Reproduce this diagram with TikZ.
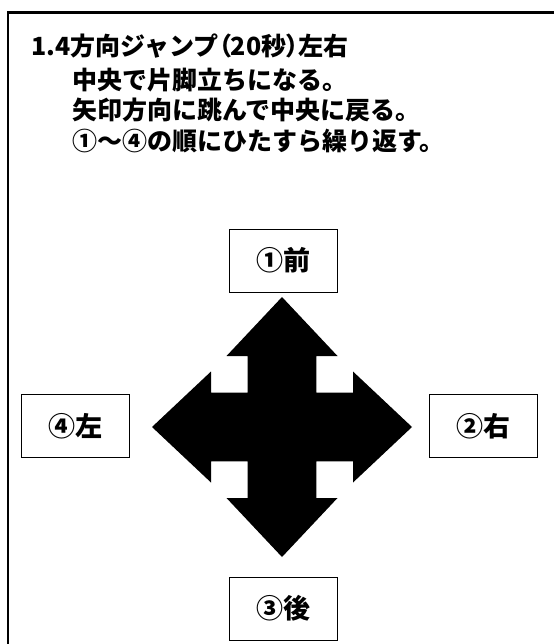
\documentclass[tikz,border=0pt]{standalone}
\usepackage{fontspec}
\setmainfont{Noto Sans CJK JP}
\newcommand{\narrowparen}[1]{{\addfontfeature{RawFeature=+palt}#1}}

\begin{document}
\begin{tikzpicture}[x=1pt,y=-1pt,
		label box/.style={draw, line width=0.8pt, minimum width=108pt, minimum height=63pt, inner sep=0pt, font=\fontsize{27}{30}\selectfont\bfseries},
		text line/.style={anchor=base west, inner sep=0pt, font=\fontsize{25}{28}\selectfont\bfseries}]
			\useasboundingbox (0,0) rectangle (554,644);

			% frame (only top and left show)
			\draw [line width=2.5pt] (8,644) -- (8,12.5) -- (554,12.5) ;

			% text lines
			\node[text line] (title) at (31,56) {1.4方向ジャンプ\narrowparen{（}20秒\narrowparen{）}左右} ;
			\node[text line] (step1) at (72,90) {中央で片脚立ちになる。} ;
			\node[text line] (step2) at (72,120) {矢印方向に跳んで中央に戻る。} ;
			\node[text line] (step3) at (72,151) {①～④の順にひたすら繰り返す。} ;

			% arrow in four directions
			\fill [black, shift={(282,427)}] (0,-130) -- (55.5,-71) -- (34.3,-71) -- (34.3,-34.3) -- (71,-34.3) -- (71,-55.5)
				-- (130,0) -- (71,55.5) -- (71,34.3) -- (34.3,34.3) -- (34.3,71) -- (55.5,71)
				-- (0,130) -- (-55.5,71) -- (-34.3,71) -- (-34.3,34.3) -- (-71,34.3) -- (-71,55.5)
				-- (-130,0) -- (-71,-55.5) -- (-71,-34.3) -- (-34.3,-34.3) -- (-34.3,-71) -- (-55.5,-71) -- cycle ;

			% direction boxes
			\node[label box] (front) at (283,260.5) {①前} ;
			\node[label box] (right) at (483,426) {②右} ;
			\node[label box] (back) at (283,608.5) {③後} ;
			\node[label box] (left) at (75,426) {④左} ;

		\end{tikzpicture}
\end{document}
